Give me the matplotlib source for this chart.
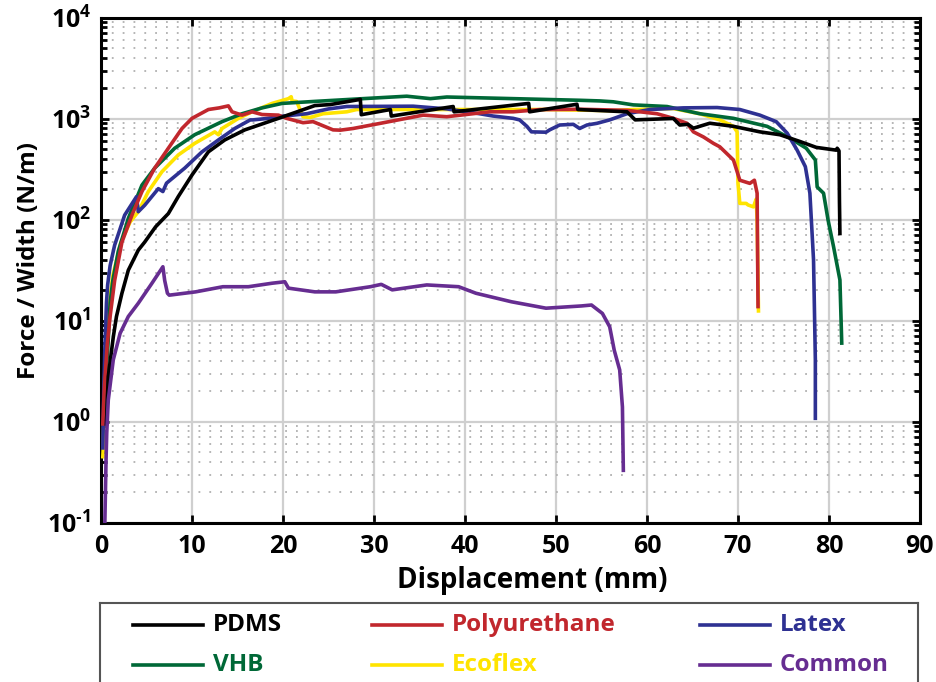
import numpy as np
import matplotlib
matplotlib.use("Agg")
import matplotlib.pyplot as plt
from matplotlib.ticker import LogLocator, NullLocator, FixedLocator, FixedFormatter

# Force/width vs displacement for the six materials
names = ["PDMS", "Polyurethane", "Latex", "VHB", "Ecoflex", "Common"]
colors = ["#000000", "#C1272D", "#2E3192", "#006837", "#FFE400", "#662D91"]

pdms_x = [0.6, 0.8, 1.35, 1.7, 2.3, 3.0, 4.1, 4.8, 6.0, 7.4, 8.5, 10.0, 11.8, 13.6, 15.8,
          19.5, 23.5, 25.2, 28.5, 28.6, 31.8, 31.9, 38.7, 38.8, 47.0, 47.1, 52.3, 52.4,
          57.8, 58.7, 62.9, 63.6, 64.5, 65.1, 66.9, 69.5, 72.4, 74.6, 76.8, 78.6, 80.8,
          80.9, 81.1, 81.15, 81.2]
pdms_y = [0.95, 2.8, 6.9, 11, 18.7, 31.6, 50, 60, 85, 115, 170, 277, 470, 616, 775,
          1008, 1349, 1380, 1554, 1095, 1233, 1062, 1320, 1170, 1417, 1170, 1390, 1233,
          1170, 974, 1005, 866, 880, 805, 902, 840, 741, 694, 595, 520, 488,
          510, 480, 150, 73]

pu_x = [0.2, 0.35, 0.45, 0.7, 1.0, 1.5, 2.3, 3.4, 4.5, 5.9, 7.4, 8.9, 10.0, 11.8, 13.0,
        14.0, 14.4, 15.5, 16.6, 17.7, 19.5, 20.4, 22.2, 23.3, 25.5, 26.3, 27.7, 30.7,
        35.4, 38.0, 42.7, 45.3, 48.2, 52.6, 57.8, 61.1, 62.9, 64.4, 65.1, 66.2, 67.3,
        68.0, 69.5, 70.2, 71.3, 71.8, 72.1, 72.2]
pu_y = [0.95, 2.0, 2.8, 6, 11, 25, 60, 111, 190, 324, 510, 800, 1008, 1233, 1280,
        1340, 1170, 1085, 1170, 1100, 1085, 1008, 913, 935, 775, 770, 800, 900,
        1085, 1046, 1170, 1170, 1230, 1240, 1210, 1120, 1008, 900, 741, 660, 570,
        527, 390, 246, 229, 246, 183, 13.8]

latex_x = [0.2, 0.25, 0.3, 0.44, 0.6, 0.73, 1.0, 1.5, 2.6, 3.9, 4.1, 4.8, 6.3, 6.8, 7.2,
           9.2, 11.1, 12.9, 14.7, 16.4, 16.7, 18.0, 20.0, 22.6, 25.0, 27.0, 34.3, 38.0,
           41.6, 43.1, 45.3, 46.0, 46.8, 47.3, 48.9, 49.3, 50.4, 51.9, 52.6, 53.4, 54.5,
           55.9, 57.8, 60.3, 64.0, 67.7, 70.2, 72.4, 74.2, 75.4, 76.5, 77.4, 77.9, 78.3,
           78.5, 78.5]
latex_y = [0.55, 1.0, 2.0, 6, 15, 22.6, 35, 56, 111, 169, 120, 139, 203, 190, 230,
           324, 470, 616, 800, 973, 973, 1000, 1060, 1120, 1250, 1320, 1330, 1250,
           1120, 1062, 1008, 973, 840, 741, 735, 775, 866, 880, 800, 866, 900,
           973, 1120, 1233, 1280, 1290, 1233, 1085, 935, 720, 488, 335, 183, 40,
           4.1, 1.08]

vhb_x = [0.3, 0.5, 0.73, 1.0, 1.3, 1.9, 3.0, 4.5, 5.9, 8.1, 10.3, 13.3, 15.5, 17.7, 19.9,
         23.3, 28.8, 33.6, 36.2, 38.0, 45.3, 52.6, 54.8, 56.3, 58.5, 62.2, 65.8, 69.5,
         73.2, 75.7, 77.5, 78.5, 78.7, 79.4, 79.9, 80.5, 81.2, 81.4]
vhb_y = [0.95, 2.5, 5, 15, 25, 48.7, 103, 220, 324, 510, 694, 935, 1120, 1280, 1417,
         1480, 1580, 1670, 1580, 1640, 1580, 1522, 1500, 1470, 1370, 1320, 1120, 1008,
         840, 643, 510, 390, 211, 183, 99, 54, 25.3, 6.0]

eco_x = [0.2, 0.25, 0.35, 0.5, 0.8, 1.3, 2.2, 3.2, 4.1, 5.2, 6.7, 8.5, 10.3, 12.5, 12.9,
         13.3, 15.1, 16.6, 18.8, 20.6, 20.9, 21.0, 21.5, 22.2, 23.0, 24.4, 27.0, 28.1,
         34.3, 41.6, 48.9, 56.3, 58.5, 62.9, 65.8, 68.0, 69.5, 69.9, 70.0, 70.2, 70.9,
         71.1, 71.7, 72.0, 72.1, 72.25]
eco_y = [0.45, 0.55, 2.0, 5, 12, 28, 60, 95, 120, 190, 299, 438, 570, 741, 694,
         800, 1008, 1170, 1417, 1580, 1650, 1500, 1480, 1046, 1030, 1120, 1170, 1233,
         1233, 1233, 1233, 1200, 1233, 1260, 1120, 973, 840, 741, 229, 145, 145,
         140, 134, 160, 100, 12.5]

common_x = [0.4, 0.44, 0.55, 0.63, 0.8, 1.35, 2.1, 3.0, 4.1, 5.6, 6.8, 7.0, 7.3, 7.5,
            10.4, 13.4, 16.2, 18.8, 20.2, 20.6, 23.5, 25.8, 29.6, 30.8, 32.0, 35.8, 39.3,
            41.2, 45.1, 48.9, 52.8, 53.9, 55.1, 55.9, 56.4, 57.0, 57.3, 57.4]
common_y = [0.08, 0.12, 0.4, 0.77, 1.64, 4.1, 7.5, 11, 14.9, 23.5, 34.2, 25, 18.7, 17.9,
            19.3, 21.7, 21.7, 23.5, 24.3, 21, 19.3, 19.3, 21.7, 22.9, 20.2, 22.6, 21.7,
            18.7, 15.4, 13.3, 14.0, 14.3, 11.8, 8.7, 5.1, 3.25, 1.4, 0.33]

xs = [pdms_x, pu_x, latex_x, vhb_x, eco_x, common_x]
ys = [pdms_y, pu_y, latex_y, vhb_y, eco_y, common_y]

x_ticks = [0, 10, 20, 30, 40, 50, 60, 70, 80, 90]
y_ticks = [1e-1, 1e0, 1e1, 1e2, 1e3, 1e4]
# hyphen (U+2010) in the exponent so the -1 looks like the original
y_tick_labels = ["$10^{\u20101}$", r"$10^{0}$", r"$10^{1}$",
                 r"$10^{2}$", r"$10^{3}$", r"$10^{4}$"]

plt.rcParams["font.family"] = ["Open Sans", "DejaVu Sans"]
plt.rcParams["font.weight"] = "bold"
plt.rcParams["mathtext.fontset"] = "custom"
plt.rcParams["mathtext.rm"] = "Open Sans:bold"
plt.rcParams["mathtext.it"] = "Open Sans:bold"
plt.rcParams["mathtext.bf"] = "Open Sans:bold"
plt.rcParams["mathtext.default"] = "rm"

W, H = 937, 682
fig = plt.figure(figsize=(W / 100, H / 100), dpi=100)
ax = fig.add_axes([101 / W, 159.3 / H, 819 / W, 505 / H])

# draw order: yellow, green, blue, red, black, purple
for i in [4, 3, 2, 1, 0, 5]:
    ax.plot(xs[i], ys[i], color=colors[i], lw=2.6, solid_joinstyle="round", zorder=3)

ax.set_yscale("log")
ax.set_xlim(0, 90)
ax.set_ylim(1e-1, 1e4)
ax.xaxis.set_major_locator(FixedLocator(x_ticks))
ax.xaxis.set_minor_locator(NullLocator())
ax.yaxis.set_major_locator(FixedLocator(y_ticks))
ax.yaxis.set_major_formatter(FixedFormatter(y_tick_labels))
ax.yaxis.set_minor_locator(LogLocator(base=10, subs=np.arange(2, 10), numticks=20))

ax.grid(which="major", color="#cfcfcf", lw=1.6, ls="-", zorder=0)
ax.yaxis.grid(which="minor", color="#b0b0b0", lw=1.3, ls=(0, (1, 5)), zorder=0)
ax.set_axisbelow(True)

for s in ax.spines.values():
    s.set_linewidth(2.2)
ax.tick_params(which="both", direction="in", top=True, right=True, width=2)
ax.tick_params(which="major", length=6, labelsize=18)
ax.tick_params(which="minor", length=4)
ax.tick_params(axis="x", pad=8)
ax.tick_params(axis="y", pad=7)

ax.set_xlabel("Displacement (mm)", fontsize=20, fontweight="bold")
ax.set_ylabel("Force / Width (N/m)", fontsize=17.5, fontweight="bold")
ax.xaxis.set_label_coords(0.527, -0.085)
ax.yaxis.set_label_coords(-0.073, 0.52)

# legend box below the plot
lax = fig.add_axes([100 / W, 0, 818 / W, 79 / H])
lax.set_xlim(100, 918)
lax.set_ylim(682, 603)
lax.set_xticks([])
lax.set_yticks([])
for side in ["left", "right", "top"]:
    lax.spines[side].set_color("#555555")
    lax.spines[side].set_linewidth(1.5)
lax.spines["bottom"].set_visible(False)

col_x = [133, 372, 700]
row_y = [625, 665]
for k in range(6):
    cx = col_x[k % 3]
    ry = row_y[k // 3]
    lax.plot([cx, cx + 70], [ry, ry], color=colors[k], lw=2.6)
    lax.text(cx + 80, ry, names[k], color=colors[k], fontsize=17.5,
             fontweight="bold", va="center", ha="left")

fig.savefig("out.png", dpi=100)
